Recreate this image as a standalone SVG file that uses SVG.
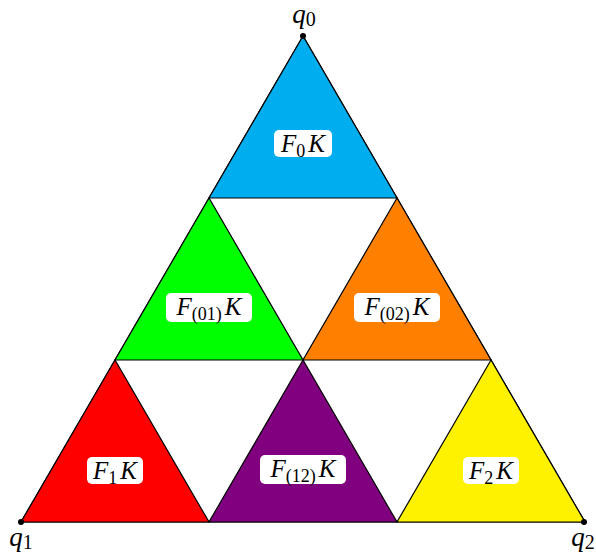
<svg xmlns="http://www.w3.org/2000/svg" width="596" height="555" viewBox="0 0 596 555">
<style>
.tri{stroke:#000;stroke-width:1.2;stroke-linejoin:miter}
.box{fill:#fff;stroke:none}
.lbl{font-family:"Liberation Serif","Times New Roman",serif;font-size:25px;fill:#000;text-anchor:middle}
.it{font-style:italic}
.sub{font-size:18px;font-style:normal}
.q{font-size:27px}
.qs{font-size:20px;font-style:normal}
.dot{fill:#000}
</style>
<rect width="596" height="555" fill="#fff"/>
<g id="connectors">
<polygon points="303,36 21,522 585,522" fill="none" stroke="#000" stroke-width="1.2"/>
</g>
<g id="F0K">
<polygon class="tri" points="303,36 209,198 397,198" fill="#00AEEF"/>
<rect class="box" x="274" y="130" width="58" height="27" rx="5"/>
<text class="lbl" x="303" y="152"><tspan class="it">F</tspan><tspan class="sub" dy="5">0</tspan><tspan class="it" dy="-5" dx="3">K</tspan></text>
</g>
<g id="F01K">
<polygon class="tri" points="209,198 115,360 303,360" fill="#00FF00"/>
<rect class="box" x="166" y="293" width="86" height="29" rx="5"/>
<text class="lbl" x="209" y="315"><tspan class="it">F</tspan><tspan class="sub" dy="5">(01)</tspan><tspan class="it" dy="-5" dx="3">K</tspan></text>
</g>
<g id="F02K">
<polygon class="tri" points="397,198 303,360 491,360" fill="#FF8000"/>
<rect class="box" x="354" y="293" width="86" height="29" rx="5"/>
<text class="lbl" x="397" y="315"><tspan class="it">F</tspan><tspan class="sub" dy="5">(02)</tspan><tspan class="it" dy="-5" dx="3">K</tspan></text>
</g>
<g id="F1K">
<polygon class="tri" points="115,360 21,522 209,522" fill="#FF0000"/>
<rect class="box" x="87" y="457" width="56" height="27" rx="5"/>
<text class="lbl" x="115" y="479"><tspan class="it">F</tspan><tspan class="sub" dy="5">1</tspan><tspan class="it" dy="-5" dx="3">K</tspan></text>
</g>
<g id="F12K">
<polygon class="tri" points="303,360 209,522 397,522" fill="#800080"/>
<rect class="box" x="260" y="455" width="86" height="29" rx="5"/>
<text class="lbl" x="303" y="477"><tspan class="it">F</tspan><tspan class="sub" dy="5">(12)</tspan><tspan class="it" dy="-5" dx="3">K</tspan></text>
</g>
<g id="F2K">
<polygon class="tri" points="491,360 397,522 585,522" fill="#FFF200"/>
<rect class="box" x="463" y="457" width="56" height="27" rx="5"/>
<text class="lbl" x="491" y="479"><tspan class="it">F</tspan><tspan class="sub" dy="5">2</tspan><tspan class="it" dy="-5" dx="3">K</tspan></text>
</g>
<g id="q0">
<circle class="dot" cx="303" cy="36" r="3"/>
<text class="lbl q" x="304" y="23"><tspan class="it">q</tspan><tspan class="qs" dy="3">0</tspan></text>
</g>
<g id="q1">
<circle class="dot" cx="21" cy="522" r="3"/>
<text class="lbl q" x="21" y="546"><tspan class="it">q</tspan><tspan class="qs" dy="3">1</tspan></text>
</g>
<g id="q2">
<circle class="dot" cx="584" cy="522" r="3"/>
<text class="lbl q" x="583" y="546"><tspan class="it">q</tspan><tspan class="qs" dy="3">2</tspan></text>
</g>
</svg>
